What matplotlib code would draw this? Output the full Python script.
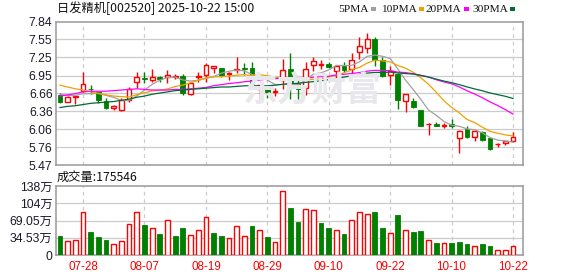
import matplotlib
matplotlib.use("Agg")
import matplotlib.pyplot as plt
from matplotlib.patches import Rectangle
from matplotlib import font_manager
import numpy as np

# ---------------- data ----------------
dates = ["07-23", "07-24", "07-25", "07-28", "07-29", "07-30", "07-31",
         "08-01", "08-04", "08-05", "08-06", "08-07", "08-08", "08-11", "08-12",
         "08-13", "08-14", "08-15", "08-18", "08-19", "08-20", "08-21", "08-22",
         "08-25", "08-26", "08-27", "08-28", "08-29",
         "09-01", "09-02", "09-03", "09-04", "09-05", "09-08", "09-09", "09-10",
         "09-11", "09-12", "09-15", "09-16", "09-17", "09-18", "09-19", "09-22",
         "09-23", "09-24", "09-25", "09-26", "09-29", "09-30",
         "10-09", "10-10", "10-13", "10-14", "10-15", "10-16", "10-17", "10-20",
         "10-21", "10-22"]

opens = [6.63, 6.52, 6.59, 6.70, 6.73, 6.67, 6.53, 6.41, 6.38, 6.55,
         6.84, 6.91, 6.88, 6.93, 6.93, 6.93, 6.94, 6.64, 6.93, 6.96,
         7.08, 7.07, 6.97, 7.04, 7.065, 7.07, 6.72, 6.74, 6.68, 6.87,
         7.05, 6.83, 6.75, 7.12, 7.13, 7.14, 7.03, 7.10, 7.05, 7.34,
         7.41, 7.55, 7.21, 6.96, 6.97, 6.53, 6.53, 6.38, 6.14, 6.15,
         6.12, 6.14, 5.91, 6.06, 5.94, 6.02, 5.92, 5.81, 5.83, 5.86]
highs = [6.66, 6.61, 6.62, 7.01, 6.79, 6.68, 6.57, 6.46, 6.57, 6.76,
         7.00, 7.00, 7.06, 6.95, 7.04, 6.97, 6.97, 6.84, 7.00, 7.16,
         7.11, 7.08, 7.01, 7.25, 7.15, 7.17, 6.80, 6.77, 6.74, 7.22,
         7.32, 6.88, 7.18, 7.26, 7.20, 7.18, 7.12, 7.18, 7.32, 7.58,
         7.66, 7.58, 7.25, 7.10, 6.99, 6.65, 6.57, 6.38, 6.16, 6.18,
         6.16, 6.23, 6.05, 6.11, 6.05, 6.04, 5.92, 5.84, 5.87, 6.02]
lows = [6.49, 6.51, 6.48, 6.68, 6.64, 6.49, 6.39, 6.38, 6.36, 6.52,
        6.74, 6.82, 6.85, 6.85, 6.82, 6.89, 6.63, 6.63, 6.84, 6.84,
        6.99, 6.93, 6.88, 6.99, 6.96, 6.79, 6.52, 6.57, 6.61, 6.72,
        6.56, 6.56, 6.63, 7.03, 7.05, 7.08, 6.90, 7.01, 6.97, 7.22,
        7.32, 7.11, 6.92, 6.79, 6.39, 6.34, 6.42, 6.12, 5.97, 6.12,
        6.08, 6.09, 5.67, 5.92, 5.87, 5.87, 5.72, 5.76, 5.80, 5.86]
closes = [6.52, 6.59, 6.61, 6.81, 6.72, 6.55, 6.42, 6.44, 6.55, 6.73,
          6.92, 6.90, 6.92, 6.89, 6.96, 6.95, 6.66, 6.83, 6.95, 7.12,
          7.10, 6.94, 6.99, 7.05, 7.06, 6.79, 6.80, 6.67, 6.69, 7.04,
          6.85, 6.73, 7.06, 7.19, 7.14, 7.09, 7.11, 7.04, 7.21, 7.43,
          7.55, 7.21, 6.94, 7.03, 6.55, 6.64, 6.43, 6.12, 6.15, 6.12,
          6.13, 6.12, 6.03, 5.94, 6.04, 5.88, 5.73, 5.82, 5.87, 5.94]
# volume in 万
volumes = [38, 28, 30, 86, 46, 36, 30, 22, 28, 62,
           86, 60, 54, 42, 70, 38, 54, 40, 50, 76,
           44, 38, 34, 58, 38, 58, 50, 36, 26, 128,
           94, 66, 92, 90, 64, 54, 50, 42, 70, 86,
           82, 86, 54, 45, 80, 50, 46, 48, 31, 24,
           24, 24, 26, 22, 19, 22, 18, 11, 11, 17.5546]

ma5_head = [6.64, 6.62, 6.62, 6.65]
ma10_head = [6.79, 6.76, 6.73, 6.71, 6.68, 6.65, 6.63, 6.61, 6.60]
ma20_head = [6.61, 6.63, 6.65, 6.68, 6.69, 6.69, 6.69, 6.70, 6.71, 6.72,
             6.73, 6.72, 6.71, 6.71, 6.71, 6.72, 6.72, 6.73, 6.74]
ma30_head = [6.42, 6.44, 6.45, 6.47, 6.49, 6.50, 6.51, 6.52, 6.54, 6.56,
             6.59, 6.61, 6.64, 6.66, 6.68, 6.70, 6.71, 6.72, 6.73, 6.74,
             6.75, 6.76, 6.76, 6.77, 6.78, 6.78, 6.78, 6.78, 6.79]

price_ticks = [7.84, 7.55, 7.25, 6.95, 6.66, 6.36, 6.06, 5.76, 5.47]
price_labels = ["7.84", "7.55", "7.25", "6.95", "6.66", "6.36", "6.06", "5.76", "5.47"]
vol_ticks = [0, 34.53, 69.05, 103.58, 138.1]
vol_labels = ["0", "34.53万", "69.05万", "104万", "138万"]
x_label_dates = ["07-28", "08-07", "08-19", "08-29", "09-10", "09-22", "10-10", "10-22"]

title = "日发精机[002520] 2025-10-22 15:00"
ma_names = ["5PMA", "10PMA", "20PMA", "30PMA"]

# ---------------- style ----------------
RED = "#ff0000"
GREEN = "#008000"
MA_COLORS = ["#a0a0a0", "#f0a000", "#ff00ff", "#006c35"]
FRAME = "#999999"
GRID = "#cccccc"
CJK = ["Liberation Sans", "Noto Sans CJK SC", "DejaVu Sans"]
plt.rcParams['font.family'] = CJK

def has_font(name):
    try:
        font_manager.findfont(font_manager.FontProperties(family=name),
                              fallback_to_default=False)
        return True
    except Exception:
        return False

LEG_FONT = "Liberation Sans Narrow" if has_font("Liberation Sans Narrow") else "Liberation Serif"

W, H = 578, 276
fig = plt.figure(figsize=(W / 100, H / 100), dpi=100)

def fx(px):
    return px / W

def fy(py):
    return 1 - py / H

L, R = 56, 523
ax = fig.add_axes([fx(L), fy(165), fx(R - L), (165 - 21.7) / H])
axv = fig.add_axes([fx(L), fy(255), fx(R - L), (255 - 186) / H])

n = len(closes)
x = np.arange(n)
bw = 0.62

def ma(period, head):
    out = list(head)
    for i in range(period - 1, n):
        out.append(float(np.mean(closes[i - period + 1:i + 1])))
    return out

mas = [ma(5, ma5_head), ma(10, ma10_head), ma(20, ma20_head), ma(30, ma30_head)]

# watermark
fig.text(fx(312), fy(90), "东方财富", fontsize=25, color="#e8e8ec",
         family=["Noto Sans CJK SC"], fontweight="bold", ha="center", va="center", zorder=0)

for a in (ax, axv):
    a.set_facecolor("none")
    a.set_xlim(-0.52, 60.3)
    for s in a.spines.values():
        s.set_color(FRAME)
        s.set_linewidth(1.1)
    a.tick_params(length=0, colors="#1a1a2a", labelsize=8.8, pad=2.5)

label_idx = [dates.index(d) for d in x_label_dates]

# price panel
ax.set_ylim(5.47, 7.84)
ax.set_yticks(price_ticks)
ax.set_yticklabels(price_labels)
ax.set_xticks([])
for t in price_ticks[1:-1]:
    ax.axhline(t, color=GRID, lw=0.9, zorder=1)
for i in label_idx:
    ax.axvline(i, color=GRID, lw=0.9, ls=(0, (3, 3)), zorder=1)

for i in range(n):
    o, h, l, c = opens[i], highs[i], lows[i], closes[i]
    up = c > o
    col = RED if up else GREEN
    ax.vlines(i, l, h, color=col, lw=1.0, zorder=3)
    bot, top = min(o, c), max(o, c)
    hgt = max(top - bot, 0.006)
    if up:
        ax.add_patch(Rectangle((i - bw / 2, bot), bw, hgt, facecolor="white",
                               edgecolor=col, lw=1.0, zorder=4))
    else:
        ax.add_patch(Rectangle((i - bw / 2, bot), bw, hgt, facecolor=col,
                               edgecolor=col, lw=0.6, zorder=4))

for m, col in zip(mas, MA_COLORS):
    ax.plot(x, m, color=col, lw=0.9, zorder=5)

# volume panel
axv.set_ylim(0, 138.1)
axv.set_yticks(vol_ticks)
axv.set_yticklabels(vol_labels)
for t in vol_ticks[1:-1]:
    axv.axhline(t, color=GRID, lw=0.9, zorder=1)
for i in label_idx:
    axv.axvline(i, color=GRID, lw=0.9, ls=(0, (3, 3)), zorder=1)
for i in range(n):
    prev = closes[i - 1] if i > 0 else opens[i]
    up = closes[i] > prev
    if up:
        axv.bar(i, volumes[i], width=bw, facecolor="white", edgecolor=RED, lw=1.0, zorder=3)
    else:
        axv.bar(i, volumes[i], width=bw, facecolor=GREEN, edgecolor=GREEN, lw=0.6, zorder=3)
axv.set_xticks(label_idx)
axv.set_xticklabels(x_label_dates, color=RED, fontsize=8.4)
axv.tick_params(axis="x", pad=4)

# texts
fig.text(fx(57), fy(8), title, fontsize=8.8, family=["Noto Sans CJK SC"],
         color="#111111", ha="left", va="center")
fig.text(fx(57), fy(177), f"成交量:{volumes[-1] * 10000:.0f}", fontsize=8.8,
         family=["Noto Sans CJK SC"], color="#111111", ha="left", va="center")

# legend
leg_x = [338, 381, 426, 472]
leg_texts = []
for name, lx in zip(ma_names, leg_x):
    leg_texts.append(fig.text(fx(lx), fy(9), name, fontsize=8.2, family=[LEG_FONT],
                              color="#111111", ha="left", va="center"))
fig.canvas.draw()
renderer = fig.canvas.get_renderer()
for t, col in zip(leg_texts, MA_COLORS):
    bb = t.get_window_extent(renderer)
    mx = bb.x1 + 2
    fig.add_artist(Rectangle((mx / W, fy(11)), 5 / W, 4 / H, transform=fig.transFigure,
                             facecolor=col, edgecolor="none"))

fig.savefig("out.png", dpi=100)
